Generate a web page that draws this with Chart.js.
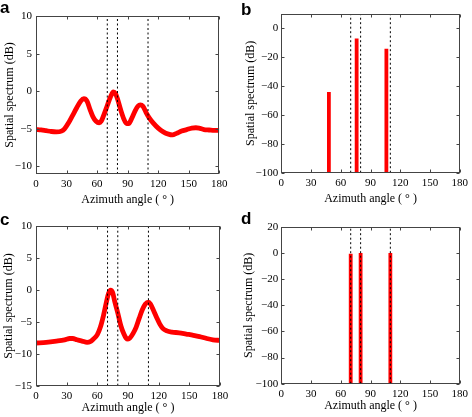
<!DOCTYPE html>
<html>
<head>
<meta charset="utf-8">
<script src="https://cdn.jsdelivr.net/npm/chart.js@4.4.1/dist/chart.umd.min.js"></script>
<style>
  html, body { margin: 0; padding: 0; background: #fff; overflow: hidden; }
  #wrap { position: relative; width: 472px; height: 417px; }
  canvas { position: absolute; }
  .tag { position: absolute; font: bold 17px "Liberation Sans", Arial, sans-serif; line-height: 1; color: #000; }
</style>
</head>
<body>
<div id="wrap">
  <canvas id="chartA" width="236" height="208" style="left:0;top:0"></canvas>
  <canvas id="chartB" width="236" height="208" style="left:236px;top:0"></canvas>
  <canvas id="chartC" width="236" height="209" style="left:0;top:208px"></canvas>
  <canvas id="chartD" width="236" height="209" style="left:236px;top:208px"></canvas>
  <div class="tag" style="left:0;top:-1px">a</div>
  <div class="tag" style="left:241px;top:1px">b</div>
  <div class="tag" style="left:0;top:211px">c</div>
  <div class="tag" style="left:241px;top:210px">d</div>
</div>
<script>
// x axis, shared by all four panels
const xTicks = [0, 30, 60, 90, 120, 150, 180];
const xTitle = 'Azimuth angle ( \u00b0 )';
const yTitle = 'Spatial spectrum (dB)';
// true source directions (dotted lines)
const trueAngles = [70, 80, 110];

// panel a - spatial spectrum curve
const aAngles = [0, 5, 10, 15, 20, 25, 28, 32, 36, 40, 44, 47, 50, 53, 56, 59, 62, 64, 67, 70, 73, 76, 78, 80, 83, 86, 89, 91, 94, 97, 100, 102.5, 105, 108, 111, 115, 120, 125, 130, 134, 138, 143, 148, 153, 157, 160, 165, 170, 175, 180];
const aLevels = [-5.1, -5.15, -5.25, -5.35, -5.4, -5.3, -5.0, -4.2, -3.2, -2.2, -1.3, -1.0, -1.3, -2.4, -3.4, -4.0, -4.2, -4.0, -3.0, -1.9, -0.8, -0.1, -0.3, -1.0, -2.4, -3.6, -4.3, -4.3, -3.6, -2.7, -2.0, -1.8, -2.0, -2.8, -3.5, -4.2, -4.9, -5.4, -5.7, -5.8, -5.6, -5.3, -5.1, -4.9, -4.85, -4.9, -5.1, -5.15, -5.2, -5.2];
const aYTicks = [-10, -5, 0, 5, 10];

// panel b - peaks
const bAngles = [48, 76, 106];
const bLevels = [-44, -7, -14];
const bYTicks = [-100, -80, -60, -40, -20, 0];

// panel c - spatial spectrum curve
const cAngles = [0, 10, 20, 28, 33, 36, 40, 45, 50, 53, 56, 60, 63, 66, 69, 71, 73, 75, 77, 80, 83, 86, 88, 90, 92, 95, 98, 101, 104, 107, 110, 112, 115, 118, 121, 124, 128, 133, 140, 147, 154, 160, 167, 173, 180];
const cLevels = [-8.3, -8.2, -8.0, -7.8, -7.6, -7.6, -7.8, -8.0, -8.2, -8.1, -7.7, -7.0, -5.8, -4.0, -1.8, -0.5, 0.0, -0.4, -1.8, -3.6, -5.6, -6.9, -7.5, -7.7, -7.5, -6.8, -5.8, -4.4, -3.1, -2.2, -1.9, -2.2, -3.2, -4.3, -5.3, -6.0, -6.4, -6.6, -6.7, -6.9, -7.1, -7.3, -7.6, -7.8, -7.9];
const cYTicks = [-15, -10, -5, 0, 5, 10];

// panel d - peaks
const dAngles = [70, 80, 110];
const dLevels = [-0.5, 0, 0];
const dYTicks = [-100, -80, -60, -40, -20, 0, 20];

Chart.defaults.font.family = "'Liberation Serif', 'Times New Roman', serif";
Chart.defaults.color = '#000';

// box round the plot with inward ticks, like matlab
const boxTicks = {
  id: 'boxTicks',
  afterDatasetsDraw(chart) {
    const { ctx, chartArea, scales } = chart;
    const l = Math.round(chartArea.left) + 0.5, r = Math.round(chartArea.right) - 0.5;
    const t = Math.round(chartArea.top) + 0.5, b = Math.round(chartArea.bottom) - 0.5;
    ctx.save();
    ctx.strokeStyle = '#444';
    ctx.lineWidth = 1;
    ctx.strokeRect(l, t, r - l, b - t);
    ctx.beginPath();
    scales.x.ticks.forEach(tk => {
      const px = Math.round(scales.x.getPixelForValue(tk.value)) + 0.5;
      ctx.moveTo(px, b); ctx.lineTo(px, b - 3);
      ctx.moveTo(px, t); ctx.lineTo(px, t + 3);
    });
    scales.y.ticks.forEach(tk => {
      const py = Math.round(scales.y.getPixelForValue(tk.value)) + 0.5;
      ctx.moveTo(l, py); ctx.lineTo(l + 3, py);
      ctx.moveTo(r, py); ctx.lineTo(r - 3, py);
    });
    ctx.stroke();
    ctx.restore();
  }
};

function curveSet(angles, levels) {
  return {
    data: angles.map((a, i) => ({ x: a, y: levels[i] })),
    borderColor: '#ff0000', borderWidth: 4.8, pointRadius: 0,
    cubicInterpolationMode: 'monotone', order: 2
  };
}

function peakSet(angles, levels, base) {
  let pts = [];
  angles.forEach((a, i) => {
    pts.push({ x: a, y: base }, { x: a, y: levels[i] }, { x: a, y: null });
  });
  return {
    data: pts, borderColor: '#ff0000', borderWidth: 3.8, pointRadius: 0,
    borderCapStyle: 'butt', spanGaps: false, tension: 0, order: 2
  };
}

function dottedSet(yMin, yMax) {
  let pts = [];
  trueAngles.forEach(a => {
    pts.push({ x: a, y: yMin }, { x: a, y: yMax }, { x: a, y: null });
  });
  return {
    data: pts, borderColor: '#000', borderWidth: 1, borderDash: [2, 2.5],
    pointRadius: 0, spanGaps: false, tension: 0, order: 1
  };
}

// p.area = [left, top, right, bottom] of the plot box inside the canvas
function makePanel(id, p) {
  const canvas = document.getElementById(id);
  const w = canvas.width, h = canvas.height;
  new Chart(canvas, {
    type: 'line',
    data: { datasets: [dottedSet(p.yMin, p.yMax), p.main] },
    options: {
      responsive: false, animation: false, devicePixelRatio: 1,
      layout: { padding: { left: 0, top: p.area[1], right: w - p.area[2], bottom: 0 } },
      plugins: { legend: { display: false }, tooltip: { enabled: false } },
      scales: {
        x: {
          type: 'linear', min: 0, max: 180,
          grid: { display: false, drawTicks: false }, border: { display: false },
          afterBuildTicks: s => { s.ticks = xTicks.map(v => ({ value: v })); },
          afterFit: s => { s.height = h - p.area[3]; },
          ticks: { padding: 4, maxRotation: 0, autoSkip: false, font: { size: 11 } },
          title: { display: true, text: xTitle, font: { size: 12 },
                   padding: { top: 0, bottom: h - 7.2 - p.xTitleY } }
        },
        y: {
          type: 'linear', min: p.yMin, max: p.yMax,
          grid: { display: false, drawTicks: false }, border: { display: false },
          afterBuildTicks: s => { s.ticks = p.yTicks.map(v => ({ value: v })); },
          afterFit: s => { s.width = p.area[0]; },
          ticks: { padding: p.yPad, autoSkip: false, font: { size: 11 },
                   callback: v => String(v).replace('-', '\u2212') },
          title: { display: true, text: yTitle, font: { size: 12 },
                   padding: { top: p.yTitleX - 7.2, bottom: 0 } }
        }
      }
    },
    plugins: [boxTicks]
  });
}

makePanel('chartA', {
  main: curveSet(aAngles, aLevels), yMin: -11, yMax: 10, yTicks: aYTicks,
  area: [36, 16, 219.3, 174], xTitleY: 199.5, yTitleX: 9.5, yPad: 4
});
makePanel('chartB', {
  main: peakSet(bAngles, bLevels, -100), yMin: -100, yMax: 10, yTicks: bYTicks,
  area: [45.3, 14, 227.3, 172.7], xTitleY: 198.5, yTitleX: 15, yPad: 3
});
makePanel('chartC', {
  main: curveSet(cAngles, cLevels), yMin: -15, yMax: 10, yTicks: cYTicks,
  area: [36, 18.3, 220, 177.7], xTitleY: 200, yTitleX: 8.5, yPad: 4
});
makePanel('chartD', {
  main: peakSet(dAngles, dLevels, -100), yMin: -100, yMax: 20, yTicks: dYTicks,
  area: [45.3, 19, 227.3, 175.7], xTitleY: 198, yTitleX: 12.5, yPad: 3
});
</script>
</body>
</html>
